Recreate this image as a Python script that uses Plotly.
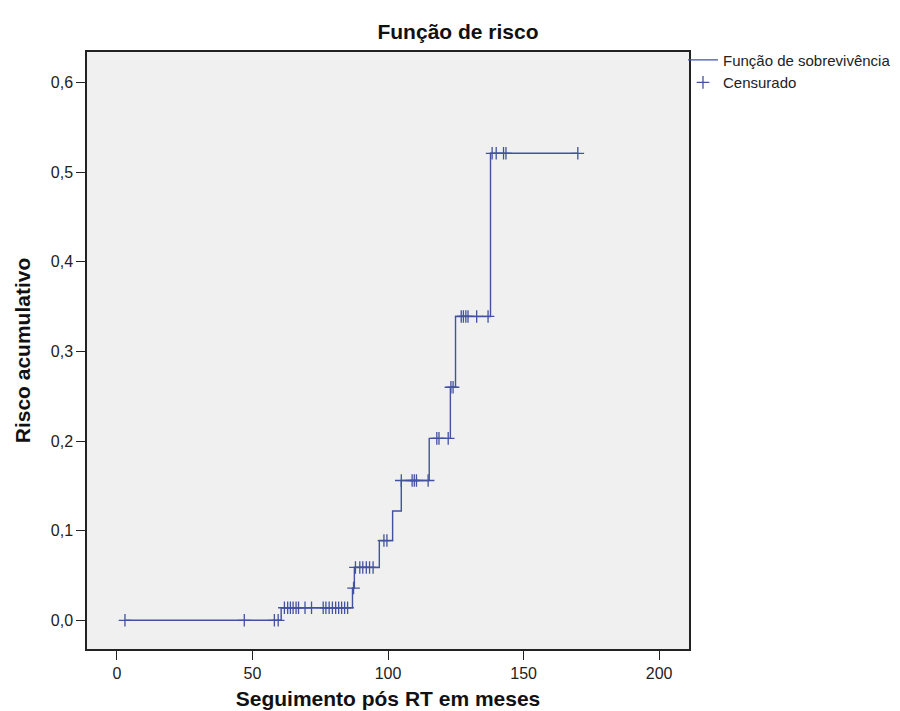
import numpy as np
import plotly.graph_objects as go

# Step function (cumulative hazard)
event_times = [3.0, 60.6, 86.9, 87.6, 96.8, 101.7, 104.9, 115.2, 123.0, 124.9, 137.8, 170.0]
cum_risk = [0.0, 0.014, 0.036, 0.059, 0.089, 0.122, 0.156, 0.203, 0.260, 0.339, 0.521, 0.521]

# Censored observation times
censor_times = [3.0, 47.0, 58.1, 59.5,
                61.8, 63.0, 64.0, 65.0, 66.1, 67.0, 69.4, 71.8, 76.1, 77.1, 78.3,
                79.5, 80.7, 81.8, 82.9, 84.0, 85.1,
                87.3,
                88.0, 89.6, 90.7, 92.0, 93.2, 94.5,
                98.5, 99.6,
                104.9, 108.9, 109.7, 110.5, 114.8,
                118.0, 118.8, 122.2,
                123.2, 124.0,
                127.0, 127.8, 128.7, 129.5, 132.7, 136.9,
                138.4, 139.9, 142.6, 143.5, 170.0]

x_ticks = [0, 50, 100, 150, 200]
x_ticklabels = ["0", "50", "100", "150", "200"]
y_ticks = [0.0, 0.1, 0.2, 0.3, 0.4, 0.5, 0.6]
y_ticklabels = ["0,0", "0,1", "0,2", "0,3", "0,4", "0,5", "0,6"]

idx = np.searchsorted(np.array(event_times), np.array(censor_times), side="right") - 1
censor_risk = np.array(cum_risk)[idx]

COLOR = "#42529f"
FONT = "Liberation Sans, Arial, sans-serif"

fig = go.Figure()
fig.add_trace(go.Scatter(
    x=event_times, y=cum_risk, mode="lines", line_shape="hv",
    line=dict(color=COLOR, width=1.4), name="Função de sobrevivência",
))
fig.add_trace(go.Scatter(
    x=censor_times, y=censor_risk, mode="markers",
    marker=dict(symbol="cross-thin", size=9, line=dict(color=COLOR, width=1.3), color=COLOR),
    name="Censurado",
))

fig.update_layout(
    width=900, height=711,
    margin=dict(l=79, r=218, t=44, b=67),
    paper_bgcolor="white", plot_bgcolor="#f0f0f0",
    font=dict(family=FONT, color="#222"),
    title=dict(text="<b>Função de risco</b>", x=0.5, xref="container", xanchor="center",
               y=1 - 24 / 711, yref="container", yanchor="middle",
               font=dict(size=21, color="#111")),
    legend=dict(x=0.99, y=1.014, xanchor="left", yanchor="top", bgcolor="rgba(0,0,0,0)",
                font=dict(size=15, color="#222"), tracegroupgap=0),
    showlegend=True,
)
fig.update_xaxes(
    range=[-11, 211], tickvals=x_ticks, ticktext=x_ticklabels,
    showgrid=False, zeroline=False,
    showline=True, linecolor="#222", linewidth=1.5, mirror=True,
    ticks="outside", ticklen=9, tickcolor="#222", tickfont=dict(size=16),
    title=dict(text="<b>Seguimento pós RT em meses</b>", font=dict(size=21, color="#111"), standoff=10),
)
fig.update_yaxes(
    range=[-0.032, 0.634], tickvals=y_ticks, ticktext=y_ticklabels,
    showgrid=False, zeroline=False,
    showline=True, linecolor="#222", linewidth=1.5, mirror=True,
    ticks="outside", ticklen=9, tickcolor="#222", tickfont=dict(size=16),
    title=dict(text="<b>Risco acumulativo</b>", font=dict(size=21, color="#111"), standoff=14),
)

fig.write_html("out.html")
